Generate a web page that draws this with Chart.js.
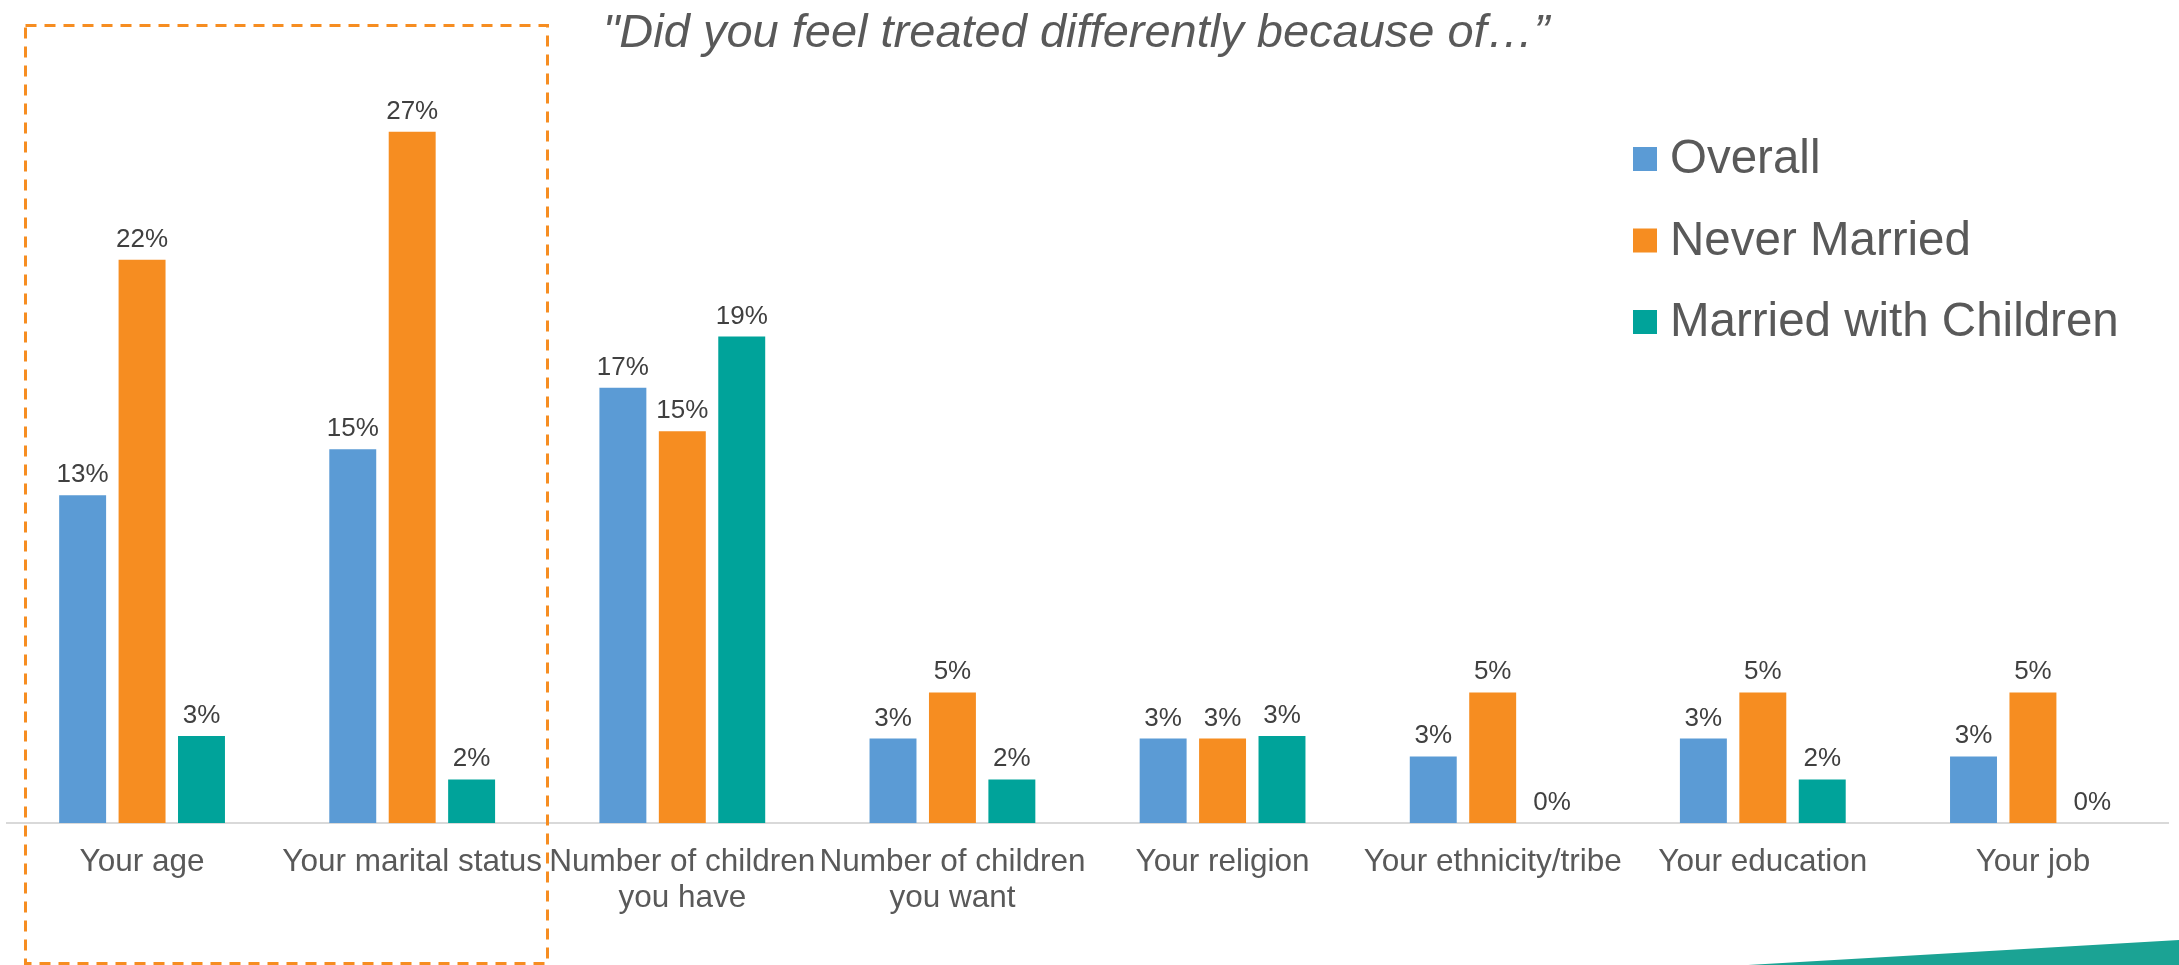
<!DOCTYPE html>
<html>
<head>
<meta charset="utf-8">
<script src="https://cdn.jsdelivr.net/npm/chart.js@4/dist/chart.umd.min.js"></script>
<style>
  html, body { margin: 0; padding: 0; background: #fff; }
  #wrap { width: 2179px; height: 965px; position: relative; }
</style>
</head>
<body>
<div id="wrap"><canvas id="chartArea"></canvas></div>
<script>
    // categories and values (in %)
    const categories = [
        "Your age",
        "Your marital status",
        ["Number of children", "you have"],
        ["Number of children", "you want"],
        "Your religion",
        "Your ethnicity/tribe",
        "Your education",
        "Your job"
    ];
    const seriesNames = ["Overall", "Never Married", "Married with Children"];
    const overall = [12.8, 14.6, 17.0, 3.3, 3.3, 2.6, 3.3, 2.6];
    const neverMarried = [22.0, 27.0, 15.3, 5.1, 3.3, 5.1, 5.1, 5.1];
    const marriedChildren = [3.4, 1.7, 19.0, 1.7, 3.4, 0, 1.7, 0];
    const titleText = "\"Did you feel treated differently because of\u2026\u201D";

    const barColors = ["#5B9BD5", "#F68D21", "#00A39A"];
    const fontFamily = "'Liberation Sans', Arial, sans-serif";

    // values on top of the bars
    const valueLabels = {
        id: "valueLabels",
        afterDatasetsDraw(chart) {
            const ctx = chart.ctx;
            ctx.save();
            ctx.font = "26px " + fontFamily;
            ctx.fillStyle = "#404040";
            ctx.textAlign = "center";
            ctx.textBaseline = "alphabetic";
            chart.data.datasets.forEach((ds, i) => {
                chart.getDatasetMeta(i).data.forEach((bar, j) => {
                    ctx.fillText(Math.round(ds.data[j]) + "%", bar.x, bar.y - 13);
                });
            });
            ctx.restore();
        }
    };

    // title, legend, highlight box and corner decoration
    const extras = {
        id: "extras",
        afterDraw(chart) {
            const ctx = chart.ctx;
            ctx.save();

            ctx.font = "italic 47px " + fontFamily;
            ctx.fillStyle = "#595959";
            ctx.textAlign = "center";
            ctx.textBaseline = "alphabetic";
            ctx.fillText(titleText, 1076, 47);

            ctx.font = "47.5px " + fontFamily;
            ctx.textAlign = "left";
            ctx.textBaseline = "middle";
            chart.data.datasets.forEach((ds, i) => {
                let y = 159 + i * 81.5;
                ctx.fillStyle = ds.backgroundColor;
                ctx.fillRect(1633, y - 12, 24, 24);
                ctx.fillStyle = "#595959";
                ctx.fillText(ds.label, 1670, y + 1);
            });

            ctx.strokeStyle = "#F68D21";
            ctx.lineWidth = 3;
            ctx.setLineDash([11, 8]);
            ctx.strokeRect(25.5, 25.5, 522, 938);
            ctx.setLineDash([]);

            ctx.fillStyle = "#1BA394";
            ctx.beginPath();
            ctx.moveTo(1748, 965);
            ctx.lineTo(2179, 940);
            ctx.lineTo(2179, 965);
            ctx.closePath();
            ctx.fill();

            ctx.restore();
        }
    };

    const canvas = document.getElementById("chartArea");
    const chartJs = new Chart(canvas, {
        type: "bar",
        data: {
            labels: categories,
            datasets: [
                { label: seriesNames[0], data: overall, backgroundColor: barColors[0] },
                { label: seriesNames[1], data: neverMarried, backgroundColor: barColors[1] },
                { label: seriesNames[2], data: marriedChildren, backgroundColor: barColors[2] }
            ]
        },
        options: {
            responsive: true,
            maintainAspectRatio: false,
            animation: false,
            categoryPercentage: 0.66,
            barPercentage: 0.79,
            layout: { padding: { top: 55, left: 7, right: 11, bottom: 0 } },
            plugins: {
                legend: { display: false },
                title: { display: false },
                tooltip: { enabled: false }
            },
            scales: {
                x: {
                    grid: { display: false, drawTicks: false },
                    border: { display: true, color: "#D9D9D9", width: 2 },
                    ticks: {
                        color: "#595959",
                        padding: 21,
                        maxRotation: 0,
                        autoSkip: false,
                        font: { family: fontFamily, size: 31.5, lineHeight: 1.14 }
                    },
                    afterFit: scale => { scale.height = 142; }
                },
                y: {
                    display: false,
                    min: 0,
                    max: 30
                }
            }
        },
        plugins: [valueLabels, extras]
    });
</script>
</body>
</html>
